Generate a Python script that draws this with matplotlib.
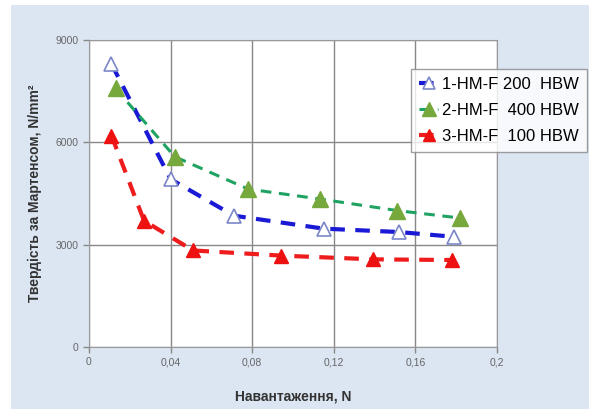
import matplotlib.pyplot as plt
from matplotlib.patches import Rectangle

# Data
x_blue = [0.011, 0.040, 0.071, 0.115, 0.152, 0.179]
y_blue = [8300, 4920, 3850, 3470, 3370, 3230]
x_green = [0.013, 0.042, 0.078, 0.113, 0.151, 0.182]
y_green = [7580, 5580, 4630, 4340, 4000, 3780]
x_red = [0.011, 0.027, 0.051, 0.094, 0.139, 0.178]
y_red = [6200, 3700, 2830, 2680, 2570, 2550]
labels = ["1-HM-F 200  HBW", "2-HM-F  400 HBW", "3-HM-F  100 HBW"]
x_ticks = [0, 0.04, 0.08, 0.12, 0.16, 0.2]
x_tick_labels = ["0", "0,04", "0,08", "0,12", "0,16", "0,2"]
y_ticks = [0, 3000, 6000, 9000]

plt.rcParams['font.family'] = ['Liberation Sans', 'DejaVu Sans']

fig = plt.figure(figsize=(5.89, 4.09), dpi=100)
fig.patches.append(Rectangle((11 / 589, 0), 1, (409 - 5) / 409, transform=fig.transFigure,
                             facecolor="#dce6f2", edgecolor="none", zorder=-1))

ax = fig.add_axes([89 / 589, 62 / 409, 408 / 589, 307 / 409])
ax.set_facecolor("white")

ax.plot(x_blue, y_blue, color="#1a1ad6", lw=3, dashes=(3.5, 2.5), marker="^", ms=10,
        mfc="white", mec="#7b86c8", mew=1.2, label=labels[0], zorder=3)
ax.plot(x_green, y_green, color="#1fa362", lw=2.2, dashes=(3.5, 2.5), marker="^", ms=11,
        mfc="#76a83c", mec="#76a83c", label=labels[1], zorder=3)
ax.plot(x_red, y_red, color="#ee1c1c", lw=3, dashes=(3.5, 2.5), marker="^", ms=10,
        mfc="#ee1111", mec="#ee1111", label=labels[2], zorder=3)

ax.set_xlim(0, 0.2)
ax.set_ylim(0, 9000)
ax.set_xticks(x_ticks)
ax.set_xticklabels(x_tick_labels)
ax.set_yticks(y_ticks)
ax.grid(True, color="#888888", lw=1)
ax.set_axisbelow(True)
for s in ax.spines.values():
    s.set_color("#999999")
ax.tick_params(colors="#888888", labelsize=7.5, length=4, width=1, labelcolor="#666666")

ax.set_xlabel("Навантаження, N", fontsize=10, fontweight="bold", color="#333333", labelpad=16)
ax.set_ylabel("Твердість за Мартенсом, N/mm²", fontsize=10, fontweight="bold",
              color="#333333", labelpad=10)

leg = ax.legend(loc="upper left", bbox_to_anchor=(411 / 589, (409 - 69) / 409),
                bbox_transform=fig.transFigure, fontsize=12, frameon=True, fancybox=False,
                handlelength=1.1, handletextpad=0.25, borderpad=0.5, labelspacing=0.65,
                borderaxespad=0, markerscale=0.9)
leg.get_frame().set_edgecolor("#888888")
leg.get_frame().set_linewidth(1)

fig.savefig("out.png", dpi=100)
